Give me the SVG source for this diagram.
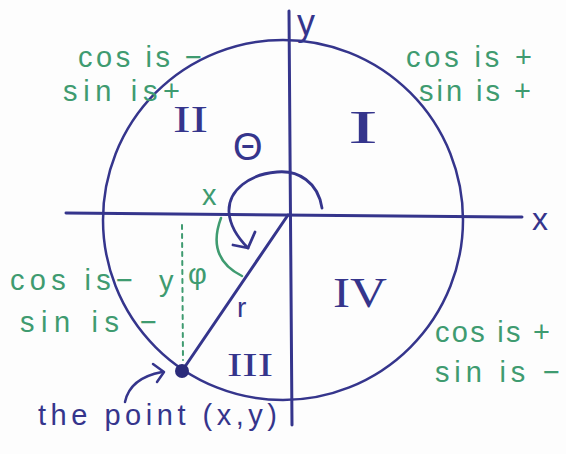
<svg xmlns="http://www.w3.org/2000/svg" width="566" height="454" viewBox="0 0 566 454">
<style>
.b{stroke:#35358c;fill:none;stroke-linecap:round;stroke-linejoin:round}
.g{stroke:#3f9b70;fill:none;stroke-linecap:round}
.gt{fill:#3f9b70;font-family:"Liberation Sans",Arial,sans-serif;font-size:29px}
.bt{fill:#35358c;font-family:"Liberation Sans",Arial,sans-serif}
.rn{fill:#35358c;font-family:"Liberation Serif","Times New Roman",serif}
</style>
<rect width="566" height="454" fill="#fdfdfd"/>
<g id="circle">
<circle class="b" cx="283" cy="220" r="180" stroke-width="2.5"/>
</g>
<g id="axes">
<line class="b" x1="66" y1="213" x2="522" y2="217" stroke-width="3"/>
<line class="b" x1="289" y1="11" x2="292" y2="425" stroke-width="3"/>
<text class="bt" x="532" y="230" font-size="32">x</text>
<text class="bt" x="297" y="35" font-size="36">y</text>
</g>
<g id="connectors">
<line class="b" x1="288" y1="215" x2="182" y2="371" stroke-width="3"/>
<line class="g" x1="182" y1="225" x2="183" y2="360" stroke-width="2" stroke-dasharray="4 5"/>
<path class="b" d="M322,208 C318,182 298,170 277,172 C250,174 228,190 229,212 C230,228 240,240 248,248" stroke-width="2.8"/>
<path class="b" d="M233,245 L248,248 L255,232" stroke-width="2.8"/>
<path class="g" d="M221,218 Q206,258 242,276" stroke-width="2.5"/>
<path class="b" d="M125,402 Q130,378 162,372" stroke-width="2.5"/>
<path class="b" d="M153,364 L164,372 L157,382" stroke-width="2.5"/>
</g>
<g id="point">
<circle cx="182" cy="371" r="7" fill="#2b2b7a"/>
<text class="bt" x="38" y="425" font-size="29" textLength="239" lengthAdjust="spacing">the point (x,y)</text>
</g>
<g id="labels">
<text class="bt" x="233" y="160" font-size="38">Θ</text>
<text class="bt" x="237" y="317" font-size="28">r</text>
<text class="gt" x="202" y="205" font-size="20">x</text>
<text class="gt" x="159" y="291" font-size="28">y</text>
<text class="gt" x="188" y="284" font-size="36">φ</text>
</g>
<g id="quadrant-II">
<text class="rn" x="173" y="132" font-size="37" textLength="35" lengthAdjust="spacingAndGlyphs">II</text>
<text class="gt" x="78" y="67" textLength="124" lengthAdjust="spacing">cos is −</text>
<text class="gt" x="63" y="101" textLength="117" lengthAdjust="spacing">sin is+</text>
</g>
<g id="quadrant-I">
<text class="rn" x="348" y="143" font-size="46" textLength="30" lengthAdjust="spacingAndGlyphs">I</text>
<text class="gt" x="406" y="67" textLength="126" lengthAdjust="spacing">cos is +</text>
<text class="gt" x="419" y="101" textLength="112" lengthAdjust="spacing">sin is +</text>
</g>
<g id="quadrant-III">
<text class="rn" x="227" y="376" font-size="34" textLength="46" lengthAdjust="spacingAndGlyphs">III</text>
<text class="gt" x="10" y="290" textLength="123" lengthAdjust="spacing">cos is−</text>
<text class="gt" x="20" y="332" textLength="137" lengthAdjust="spacing">sin is −</text>
</g>
<g id="quadrant-IV">
<text class="rn" x="333" y="307" font-size="43" textLength="54" lengthAdjust="spacingAndGlyphs">IV</text>
<text class="gt" x="435" y="342" textLength="115" lengthAdjust="spacing">cos is +</text>
<text class="gt" x="435" y="382" textLength="125" lengthAdjust="spacing">sin is −</text>
</g>
</svg>
